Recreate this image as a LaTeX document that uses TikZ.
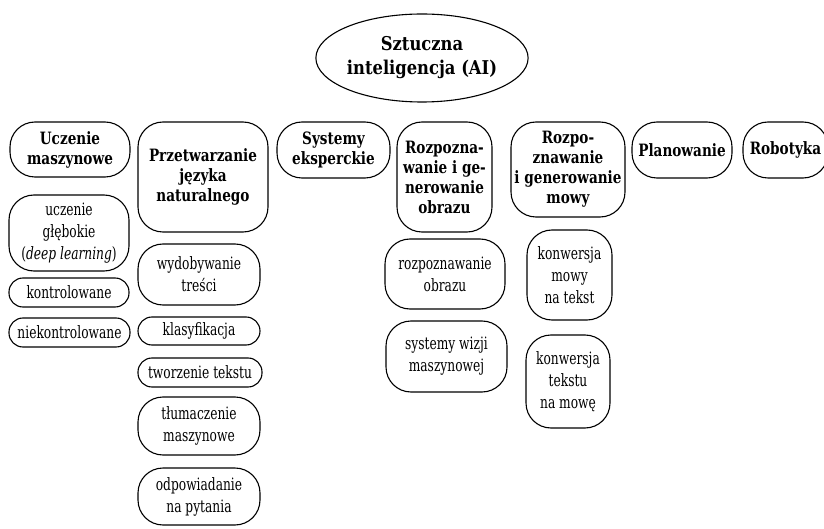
\documentclass[tikz,border=0pt]{standalone}
\usepackage{fontspec}
\setmainfont[FakeStretch=0.72]{DejaVu Serif}
\newfontfamily\headfont[FakeStretch=0.8]{DejaVu Serif}
\newfontfamily\rootfont[FakeStretch=0.86]{DejaVu Serif}
\usetikzlibrary{shapes.geometric}
\tikzset{
  base/.style={draw, line width=1.1pt, inner sep=0pt, align=center, anchor=center},
  head/.style={base, rounded corners=25pt, font=\headfont\bfseries\fontsize{17}{20}\selectfont},
  sub/.style={base, rounded corners=25pt, font=\fontsize{17}{22}\selectfont},
  slim/.style={sub, rounded corners=14pt},
  root/.style={draw, ellipse, line width=1.1pt, inner sep=0pt, align=center,
    font=\rootfont\bfseries\fontsize{19}{24}\selectfont}
}
% \mybox{name}{style}{x1}{y1}{x2}{y2}{text}
\newcommand\mybox[7]{%
  \node[#2, minimum width={(#5-#3)*1pt}, minimum height={(#6-#4)*1pt}]
    (#1) at ({(#3+#5)/2},{(#4+#6)/2}) {#7};}
\begin{document}
\begin{tikzpicture}[x=1pt,y=-1pt]
\useasboundingbox (0,0) rectangle (824,529);
\clip (0,0) rectangle (824,529);
\node[root, minimum width=200pt, minimum height=88pt] (ai) at (422,58)
  {Sztuczna\\inteligencja (AI)};

\mybox{ml}{head}{10}{122}{130}{177}{Uczenie\\maszynowe}
\mybox{dl}{sub}{9}{195}{129}{271}{uczenie\\głębokie\\(\textit{deep learning})}
\mybox{sup}{slim}{9}{278}{129}{307}{kontrolowane}
\mybox{unsup}{slim}{9}{318}{130}{347}{niekontrolowane}

\mybox{nlp}{head}{138}{122}{268}{232}{Przetwarzanie\\języka\\naturalnego}
\mybox{extr}{sub}{138}{244}{260}{305}{wydobywanie\\treści}
\mybox{clas}{slim}{138}{317}{260}{345}{klasyfikacja}
\mybox{gen}{slim}{138}{358}{262}{387}{tworzenie tekstu}
\mybox{mt}{sub}{138}{397}{260}{455}{tłumaczenie\\maszynowe}
\mybox{qa}{sub}{138}{468}{260}{525}{odpowiadanie\\na pytania}

\mybox{exp}{head}{277}{122}{390}{178}{Systemy\\eksperckie}

\mybox{img}{head}{397}{122}{492}{232}{Rozpozna-\\wanie i ge-\\nerowanie\\obrazu}
\mybox{imgr}{sub}{385}{239}{505}{309}{rozpoznawanie\\obrazu}
\mybox{vis}{sub}{386}{321}{507}{392}{systemy wizji\\maszynowej}

\mybox{sp}{head}{511}{122}{625}{217}{Rozpo-\\znawanie\\i generowanie\\mowy}
\mybox{stt}{sub}{527}{230}{612}{320}{konwersja\\mowy\\na tekst}
\mybox{tts}{sub}{526}{335}{610}{428}{konwersja\\tekstu\\na mowę}

\mybox{plan}{head}{632}{122}{732}{178}{Planowanie}
\mybox{rob}{head}{743}{122}{828}{178}{Robotyka}
\end{tikzpicture}
\end{document}
